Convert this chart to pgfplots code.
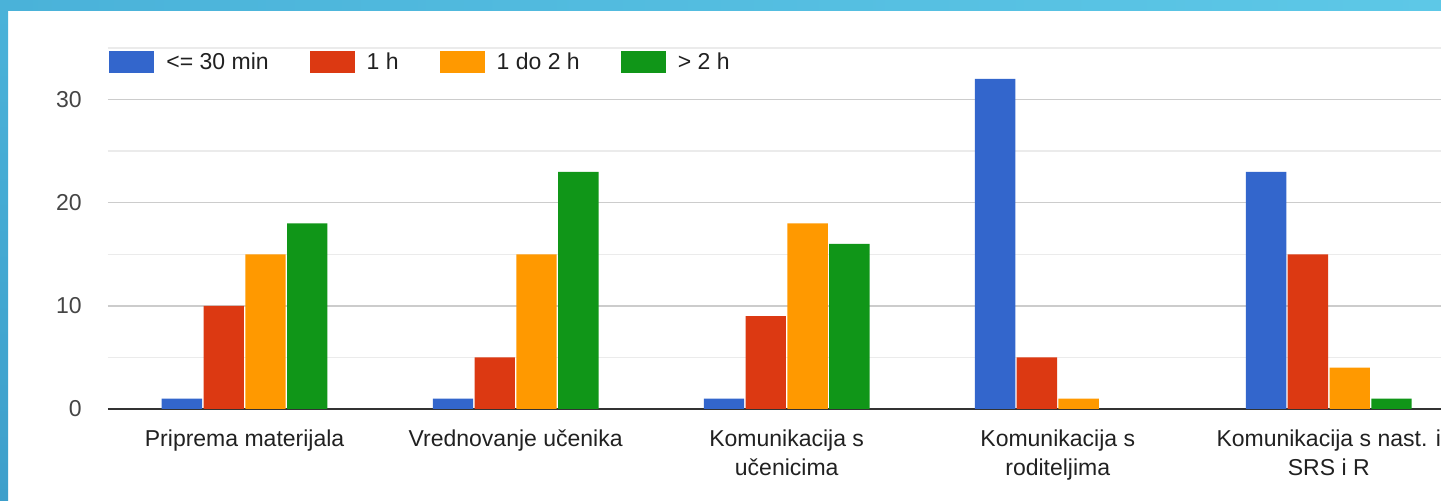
\documentclass[border=0pt]{standalone}
\usepackage{fontspec}
\setmainfont{Liberation Sans}
\usepackage{pgfplots}
\pgfplotsset{compat=1.18}
\definecolor{gblue}{HTML}{3366CC}
\definecolor{gred}{HTML}{DC3912}
\definecolor{gorange}{HTML}{FF9900}
\definecolor{ggreen}{HTML}{109618}
\definecolor{frametop}{HTML}{5DC8E7}
\definecolor{frameleft}{HTML}{4AB2D9}
\definecolor{frameleftb}{HTML}{3D9FCB}
\begin{document}
\begin{tikzpicture}
% screenshot frame
\fill[white] (0,0) rectangle (720.5pt,250.5pt);
\shade[left color=frameleft, right color=frametop] (0,245pt) rectangle (720.5pt,250.5pt);
\shade[top color=frameleft, bottom color=frameleftb] (0,0) rectangle (4pt,245pt);
\begin{axis}[
    at={(54pt,46pt)}, anchor=south west,
    scale only axis,
    width=666.5pt, height=180.5pt,
    xmin=-0.504, xmax=4.414,
    ymin=0, ymax=35,
    axis line style={draw=none},
    tick style={draw=none},
    ytick={10,20,30},
    minor ytick={5,15,25,35},
    ymajorgrids, yminorgrids,
    major grid style={color=black!20, line width=0.75pt},
    minor grid style={color=black!8, line width=0.75pt},
    extra y ticks={0},
    extra y tick style={major grid style={color=black!80, line width=1pt}},
    xtick={0,1,2,3,4},
    xticklabels={Priprema materijala, Vrednovanje učenika, Komunikacija s\\učenicima, Komunikacija s\\roditeljima, Komunikacija s nast. i\\SRS i R},
    xticklabel style={align=center, inner sep=0pt, yshift=-6pt, text=black!87,
        font=\fontsize{11.5}{14.5}\selectfont},
    yticklabel style={inner sep=0pt, xshift=-13pt, text=black!73,
        font=\fontsize{11.5}{14}\selectfont},
    /pgf/number format/assume math mode=true,
    ybar, bar width=0.149,
    every axis plot/.append style={draw=none},
    legend columns=4,
    legend style={at={(0,1)}, anchor=north west, yshift=-1.5pt, xshift=0.5pt,
        draw=none, fill=none, inner sep=0pt,
        nodes={inner sep=0pt, anchor=west, text=black!87},
        font=\fontsize{11.5}{14}\selectfont,
        /tikz/every odd column/.append style={column sep=6pt},
        /tikz/every even column/.append style={column sep=20.5pt}},
    legend image code/.code={\fill[#1] (0pt,-5.5pt) rectangle (22.5pt,5.5pt);},
]
\addplot[fill=gblue, bar shift=-0.2313] coordinates {(0,1) (1,1) (2,1) (3,32) (4,23)};
\addplot[fill=gred, bar shift=-0.0771] coordinates {(0,10) (1,5) (2,9) (3,5) (4,15)};
\addplot[fill=gorange, bar shift=0.0771] coordinates {(0,15) (1,15) (2,18) (3,1) (4,4)};
\addplot[fill=ggreen, bar shift=0.2313] coordinates {(0,18) (1,23) (2,16) (4,1)};
\legend{<= 30 min, 1 h, 1 do 2 h, > 2 h}
\end{axis}
\pgfresetboundingbox
\path (0,0) rectangle (720.5pt,250.5pt);
\end{tikzpicture}
\end{document}
